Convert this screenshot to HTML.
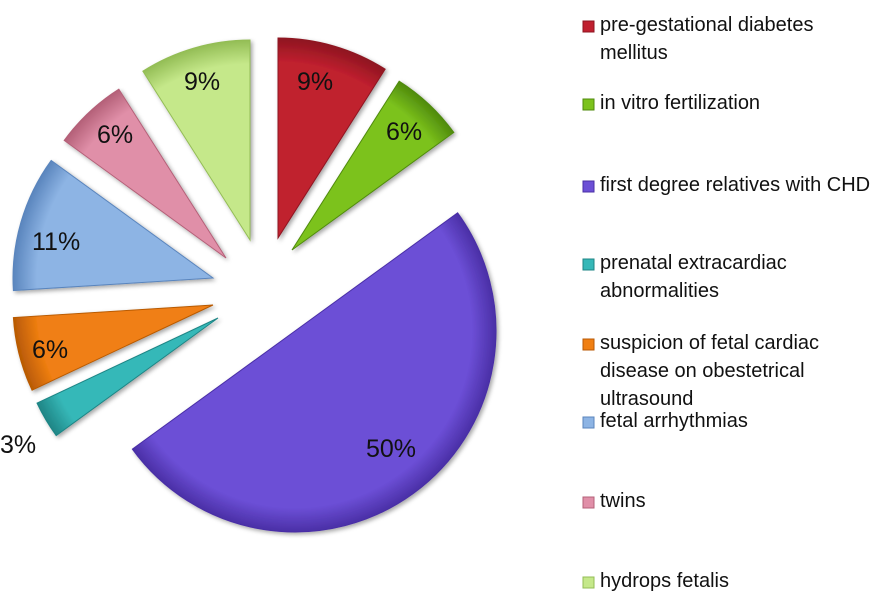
<!DOCTYPE html>
<html><head><meta charset="utf-8"><style>
body{margin:0;background:#fff;}
svg{display:block;font-family:"Liberation Sans",sans-serif;}
</style></head><body>
<svg id="s" width="893" height="600" viewBox="0 0 893 600" xmlns="http://www.w3.org/2000/svg">
<defs>
<filter id="sh" x="-10%" y="-10%" width="130%" height="130%"><feDropShadow dx="2" dy="2" stdDeviation="2" flood-opacity="0.35"/></filter>
</defs>
<g id="pie" filter="url(#sh)"></g>
<g font-size="25" fill="#111">
<text x="297" y="90">9%</text>
<text x="386" y="140">6%</text>
<text x="366" y="457">50%</text>
<text x="0" y="453">3%</text>
<text x="32" y="358">6%</text>
<text x="32" y="250">11%</text>
<text x="97" y="143">6%</text>
<text x="184" y="90">9%</text>
</g>
<g font-size="20" fill="#111">
<text x="600" y="31">pre-gestational diabetes</text>
<text x="600" y="59">mellitus</text>
<text x="600" y="109">in vitro fertilization</text>
<text x="600" y="191">first degree relatives with CHD</text>
<text x="600" y="269">prenatal extracardiac</text>
<text x="600" y="297">abnormalities</text>
<text x="600" y="349">suspicion of fetal cardiac</text>
<text x="600" y="377">disease on obestetrical</text>
<text x="600" y="405">ultrasound</text>
<text x="600" y="427">fetal arrhythmias</text>
<text x="600" y="507">twins</text>
<text x="600" y="587">hydrops fetalis</text>
</g>
<g id="leg"></g>
</svg>
<script>
var S=[
[0,32.4,278,238,200,"#c0202f","#8e1520"],
[32.4,54,292,250,200,"#7cc21c","#4f8a0d"],
[54,234,295,331,201,"#6c4fd6","#4a2fa6"],
[234,244.8,218,318,200,"#36b8b8","#1f8585"],
[244.8,266.4,213,305,200,"#f07f12","#b85a05"],
[266.4,306,213,278,200,"#8db4e4","#5a85bd"],
[306,327.6,226,258,200,"#e08fa8","#b46078"],
[327.6,360,250,240,200,"#c5e88a","#93bd55"]];
var ns="http://www.w3.org/2000/svg",g=document.getElementById("pie"),d=document.querySelector("defs");
function pt(cx,cy,r,a){a=a*Math.PI/180;return [cx+r*Math.sin(a),cy-r*Math.cos(a)];}
S.forEach(function(s,i){
 var gr=document.createElementNS(ns,"radialGradient");gr.setAttribute("id","g"+i);
 gr.setAttribute("cx",s[2]);gr.setAttribute("cy",s[3]);gr.setAttribute("r",s[4]);gr.setAttribute("gradientUnits","userSpaceOnUse");
 gr.innerHTML='<stop offset="0" stop-color="'+s[5]+'"/><stop offset="0.88" stop-color="'+s[5]+'"/><stop offset="1" stop-color="'+s[6]+'"/>';
 d.appendChild(gr);
 var a=pt(s[2],s[3],s[4],s[0]),b=pt(s[2],s[3],s[4],s[1]);
 var p=document.createElementNS(ns,"path");
 p.setAttribute("d","M"+s[2]+","+s[3]+"L"+a[0]+","+a[1]+"A"+s[4]+","+s[4]+" 0 "+((s[1]-s[0])>180?1:0)+" 1 "+b[0]+","+b[1]+"Z");
 p.setAttribute("fill","url(#g"+i+")");p.setAttribute("stroke",s[6]);p.setAttribute("stroke-width","1");
 g.appendChild(p);
});
var ly=[22,100,182,260,340,418,498,578],L=document.getElementById("leg");
ly.forEach(function(y,i){var r=document.createElementNS(ns,"rect");r.setAttribute("x",583);r.setAttribute("y",y-1);r.setAttribute("width",11);r.setAttribute("height",11);r.setAttribute("fill",S[i][5]);r.setAttribute("stroke",S[i][6]);L.appendChild(r);});
</script>
</body></html>
